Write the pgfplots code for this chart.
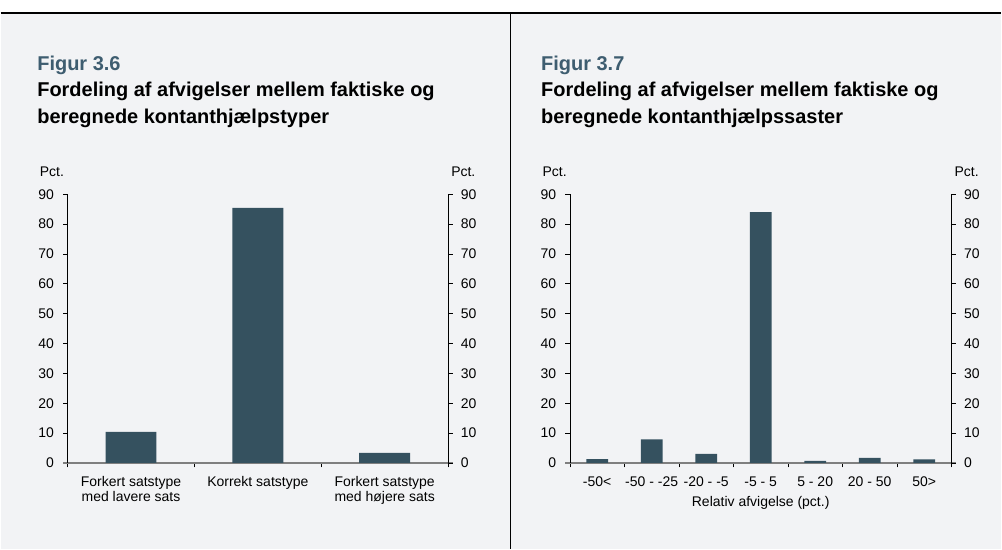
\documentclass[border=0pt]{standalone}
\usepackage{fontspec}
\setmainfont{Liberation Sans}
\usepackage{pgfplots}
\pgfplotsset{compat=1.18}
\definecolor{bg}{HTML}{F2F3F5}
\definecolor{barcol}{HTML}{35515F}
\definecolor{figcol}{HTML}{3E5D70}
\definecolor{xax}{HTML}{7F7F7F}
\newcommand{\tickfont}{\fontsize{14bp}{15bp}\selectfont}
\newcommand{\headfont}{\fontsize{20bp}{23bp}\selectfont\bfseries}
\begin{document}
\begin{tikzpicture}
\fill[white] (0,0) rectangle (1002bp,-550bp);
\fill[bg] (0,-13.5bp) rectangle (1002bp,-550bp);
\draw[black,line width=1.3bp] (0,-13bp) -- (1002bp,-13bp);
\draw[black,line width=1bp] (511bp,-13bp) -- (511bp,-550bp);
% headings
\node[anchor=base west,inner sep=0pt,text=figcol,font=\headfont] at (36.5bp,-70.3bp) {Figur 3.6};
\node[anchor=base west,inner sep=0pt,font=\headfont] at (36.5bp,-97bp) {Fordeling af afvigelser mellem faktiske og};
\node[anchor=base west,inner sep=0pt,font=\headfont] at (36.5bp,-123.5bp) {beregnede kontanthjælpstyper};
\node[anchor=base west,inner sep=0pt,text=figcol,font=\headfont] at (541bp,-70.3bp) {Figur 3.7};
\node[anchor=base west,inner sep=0pt,font=\headfont] at (541bp,-97bp) {Fordeling af afvigelser mellem faktiske og};
\node[anchor=base west,inner sep=0pt,font=\headfont] at (541bp,-123.5bp) {beregnede kontanthjælpssaster};
\node[anchor=base west,inner sep=0pt,font=\tickfont] at (39bp,-176.7bp) {Pct.};
\node[anchor=base west,inner sep=0pt,font=\tickfont] at (451bp,-176.7bp) {Pct.};
\node[anchor=base west,inner sep=0pt,font=\tickfont] at (542.5bp,-176.7bp) {Pct.};
\node[anchor=base west,inner sep=0pt,font=\tickfont] at (955bp,-176.7bp) {Pct.};
\pgfplotsset{
  mybase/.style={
    scale only axis, height=269bp, anchor=south west,
    ymin=0, ymax=90, ytick={0,10,...,90},
    tick align=outside, major tick length=4.5bp,
    tick style={black, line width=0.8bp},
    y axis line style={black, line width=0.8bp, -},
    tick label style={font=\tickfont, text=black},
    /pgf/number format/assume math mode=true,
    yticklabel style={inner sep=0pt},
  },
  mybars/.style={
    axis x line*=bottom, axis y line*=left,
    x axis line style={xax, line width=1.6bp, -, shorten <=-4.5bp, shorten >=-4.5bp},
    x tick label as interval,
    xticklabel style={align=center, yshift=-5.5bp},
    yticklabel style={xshift=-9bp},
    ybar,
  },
  myright/.style={
    axis y line*=right, axis x line=none, xtick=\empty,
    yticklabel style={xshift=8bp},
  },
}
% Left panel
\begin{axis}[mybase, mybars, at={(67bp,-463.5bp)}, width=381bp,
  xmin=-0.5, xmax=2.5, xtick={-0.5,0.5,1.5,2.5},
  xticklabels={{Forkert satstype\\med lavere sats},{Korrekt satstype},{Forkert satstype\\med højere sats}},
  bar width=51bp]
\addplot[fill=barcol, draw=none] coordinates {(0,10.4) (1,85.4) (2,3.4)};
\end{axis}
\begin{axis}[mybase, myright, at={(67bp,-463.5bp)}, width=381bp, xmin=-0.5, xmax=2.5]
\addplot[draw=none] coordinates {(0,0)};
\end{axis}
% Right panel
\begin{axis}[mybase, mybars, at={(570bp,-463.5bp)}, width=382bp,
  xmin=-0.5, xmax=6.5, xtick={-0.5,0.5,...,6.5},
  xticklabels={{-50<},{-50 - -25},{-20 - -5},{-5 - 5},{5 - 20},{20 - 50},{50>}},
  xlabel={Relativ afvigelse (pct.)},
  xlabel style={font=\tickfont, yshift=-3bp},
  bar width=21.7bp]
\addplot[fill=barcol, draw=none] coordinates {(0,1.3) (1,7.9) (2,3.0) (3,84.0) (4,0.7) (5,1.7) (6,1.2)};
\end{axis}
\begin{axis}[mybase, myright, at={(570bp,-463.5bp)}, width=382bp, xmin=-0.5, xmax=6.5]
\addplot[draw=none] coordinates {(0,0)};
\end{axis}
\end{tikzpicture}
\end{document}
